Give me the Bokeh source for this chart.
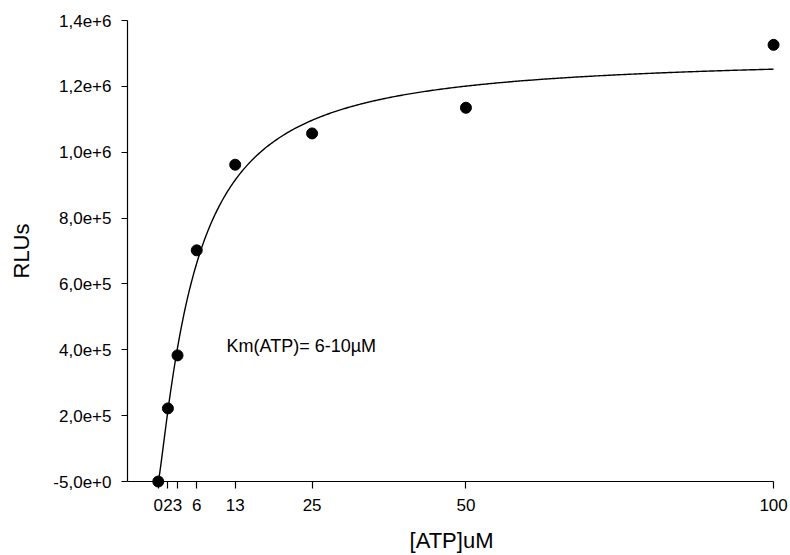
from bokeh.plotting import figure
from bokeh.models import Range1d, FixedTicker, Label, LinearAxis
from bokeh.embed import file_html
from bokeh.resources import INLINE
import numpy as np

# ---- data ----
atp_um = [0, 1.5625, 3.125, 6.25, 12.5, 25, 50, 100]
rlus = [-5, 2.22e5, 3.83e5, 7.02e5, 9.62e5, 1.057e6, 1.135e6, 1.326e6]

x_ticks = [0, 1.5625, 3.125, 6.25, 12.5, 25, 50, 100]
x_tick_labels = ["0", "2", "3", "6", "13", "25", "50", "100"]
y_ticks = [-5, 2e5, 4e5, 6e5, 8e5, 1e6, 1.2e6, 1.4e6]
y_tick_labels = ["-5,0e+0", "2,0e+5", "4,0e+5", "6,0e+5", "8,0e+5",
                 "1,0e+6", "1,2e+6", "1,4e+6"]

# fitted Hill curve parameters
fit_vmax = 1.295e6
fit_k = 6.0
fit_n = 1.2

FONT = "Liberation Sans"

p = figure(width=790, height=555, output_backend="svg", toolbar_location=None,
           x_range=Range1d(-5.98, 101.29), y_range=Range1d(-24300, 1424300),
           min_border_left=121, min_border_right=9, min_border_top=12,
           min_border_bottom=66)
p.outline_line_color = None
p.xgrid.visible = False
p.ygrid.visible = False
p.background_fill_color = "white"
p.border_fill_color = "white"

fx = np.linspace(0, 100, 400)
fy = fit_vmax * fx ** fit_n / (fit_k ** fit_n + fx ** fit_n)
p.line(fx, fy, line_color="black", line_width=1.4)
p.scatter(atp_um, rlus, size=11, fill_color="black", line_color="black")

x_over = {t: l for t, l in zip(x_ticks, x_tick_labels)}
y_over = {t: l for t, l in zip(y_ticks, y_tick_labels)}

# label axes at the frame edges (no line, no ticks)
xa = p.xaxis[0]
xa.bounds = (-5, 100)
xa.ticker = FixedTicker(ticks=x_ticks)
xa.major_label_overrides = x_over
xa.axis_label = "[ATP]uM"
ya = p.yaxis[0]
ya.bounds = (-5, 1.4e6)
ya.ticker = FixedTicker(ticks=y_ticks)
ya.major_label_overrides = y_over
ya.axis_label = "RLUs"
for ax in (xa, ya):
    ax.axis_line_color = None
    ax.major_tick_line_color = None
    ax.minor_tick_line_color = None
    ax.major_tick_in = 0
    ax.major_tick_out = 0
    ax.major_label_text_font = FONT
    ax.major_label_text_font_size = "17px"
    ax.major_label_text_color = "black"
    ax.axis_label_text_font = FONT
    ax.axis_label_text_font_size = "22px"
    ax.axis_label_text_font_style = "normal"
    ax.axis_label_text_color = "black"
xa.major_label_standoff = 9
xa.axis_label_standoff = 14
ya.major_label_standoff = 10
ya.axis_label_standoff = 16

# line + tick axes placed at the data origin (-5, -5)
xl = LinearAxis(fixed_location=-5, bounds=(-5, 100),
                ticker=FixedTicker(ticks=x_ticks))
yl = LinearAxis(fixed_location=-5, bounds=(-5, 1.4e6),
                ticker=FixedTicker(ticks=y_ticks))
for ax in (xl, yl):
    ax.minor_tick_line_color = None
    ax.major_tick_in = 0
    ax.major_tick_out = 7
    ax.axis_line_color = "black"
    ax.axis_line_width = 1.2
    ax.major_tick_line_color = "black"
    ax.major_tick_line_width = 1.2
    ax.major_label_text_font_size = "0px"
    ax.major_label_text_color = None
p.add_layout(xl, "below")
p.add_layout(yl, "left")

p.add_layout(Label(x=11.09, y=4.13e5, text="Km(ATP)= 6-10µM",
                   text_font=FONT, text_font_size="18px", text_color="black",
                   text_baseline="alphabetic"))

open("out.html", "w").write(file_html(p, INLINE))
